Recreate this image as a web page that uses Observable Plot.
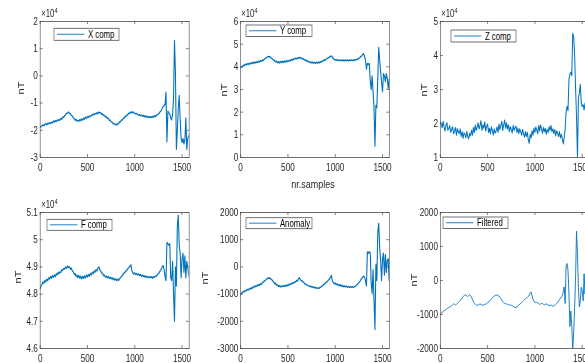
<!DOCTYPE html>
<html><head><meta charset="utf-8">
<script src="https://cdn.jsdelivr.net/npm/d3@7"></script>
<script src="https://cdn.jsdelivr.net/npm/@observablehq/plot@0.6"></script>
<style>
html,body{margin:0;padding:0;background:#fff;}
#outer{position:relative;width:585px;height:363px;overflow:hidden;background:#fff;}
#inner{position:absolute;left:0;top:0;width:760px;height:363px;transform:scaleX(0.78);transform-origin:0 0;}
.panel{position:absolute;}
.panel svg{max-width:none;}
</style>
</head><body>
<div id="outer"><div id="inner"></div></div>
<script>
// ---- data (one value every 10 samples) ----
const SAMPLE_STEP = 10;
const xTicks = [0, 500, 1000, 1500];
// X comp, units of 10^4 nT
const xComp = [
-1.90,-1.86,-1.84,-1.80,-1.83,-1.78,-1.76,-1.80,-1.74,-1.76,
-1.72,-1.75,-1.70,-1.73,-1.66,-1.70,-1.64,-1.68,-1.62,-1.65,
-1.60,-1.63,-1.56,-1.59,-1.51,-1.52,-1.45,-1.43,-1.37,-1.36,
-1.33,-1.38,-1.39,-1.46,-1.47,-1.54,-1.57,-1.63,-1.60,-1.66,
-1.63,-1.67,-1.60,-1.65,-1.58,-1.62,-1.55,-1.59,-1.52,-1.56,
-1.50,-1.53,-1.47,-1.50,-1.44,-1.46,-1.40,-1.43,-1.38,-1.40,
-1.35,-1.39,-1.33,-1.36,-1.35,-1.41,-1.40,-1.46,-1.45,-1.51,
-1.50,-1.56,-1.56,-1.63,-1.63,-1.69,-1.70,-1.75,-1.75,-1.79,
-1.78,-1.81,-1.75,-1.76,-1.68,-1.69,-1.62,-1.62,-1.55,-1.55,
-1.48,-1.49,-1.42,-1.42,-1.36,-1.38,-1.32,-1.36,-1.32,-1.37,
-1.37,-1.40,-1.38,-1.42,-1.44,-1.43,-1.46,-1.44,-1.48,-1.45,
-1.50,-1.46,-1.52,-1.48,-1.53,-1.49,-1.54,-1.50,-1.53,-1.48,
-1.52,-1.46,-1.49,-1.44,-1.43,-1.39,-1.37,-1.31,-1.28,-1.19,
-1.12,-1.10,-1.05,-0.60,-2.42,-1.30,-1.35,-1.40,-1.55,-1.62,
-1.40,-0.80,1.30,0.10,-2.70,-2.00,-1.20,-0.72,-1.60,-2.30,
-2.45,-2.30,-2.50,-2.35,-1.55,-2.70,-2.30,-2.20];
// Y comp, units of 10^4 nT
const yComp = [
3.95,4.02,4.00,4.08,4.05,4.12,4.08,4.14,4.10,4.16,
4.12,4.18,4.14,4.20,4.15,4.22,4.17,4.23,4.19,4.25,
4.21,4.27,4.24,4.30,4.28,4.34,4.36,4.40,4.42,4.46,
4.44,4.45,4.40,4.37,4.32,4.30,4.26,4.22,4.25,4.18,
4.23,4.17,4.24,4.18,4.25,4.19,4.26,4.20,4.27,4.22,
4.28,4.24,4.30,4.27,4.33,4.30,4.36,4.33,4.38,4.35,
4.40,4.37,4.42,4.38,4.40,4.35,4.36,4.31,4.32,4.27,
4.28,4.23,4.24,4.19,4.22,4.17,4.21,4.16,4.20,4.15,
4.20,4.16,4.21,4.17,4.23,4.20,4.26,4.24,4.30,4.29,
4.34,4.35,4.38,4.40,4.43,4.46,4.48,4.42,4.36,4.33,
4.30,4.32,4.28,4.31,4.27,4.30,4.27,4.31,4.26,4.30,
4.26,4.31,4.27,4.30,4.26,4.30,4.27,4.31,4.27,4.30,
4.28,4.32,4.30,4.34,4.33,4.38,4.40,4.45,4.48,4.55,
4.58,4.45,4.30,3.90,4.15,4.10,4.15,3.40,3.00,3.60,
2.90,2.20,0.50,2.30,2.20,3.50,4.85,4.30,3.80,3.30,
2.90,3.70,3.60,3.35,3.70,3.50,3.05,3.45];
// Z comp, units of 10^4 nT
const zComp = [
2.05,1.95,1.88,2.06,1.90,1.78,1.96,2.02,1.80,1.86,
1.93,1.74,1.82,1.90,1.70,1.78,1.88,1.66,1.85,1.76,
1.70,1.84,1.62,1.76,1.56,1.72,1.68,1.58,1.77,1.62,
1.55,1.70,1.64,1.80,1.66,1.88,1.74,1.95,1.80,1.90,
2.02,1.84,1.94,2.08,1.80,1.96,1.86,2.05,1.78,1.92,
1.98,1.74,1.86,1.70,1.90,1.80,1.66,1.84,1.72,1.78,
1.90,1.74,1.98,1.82,1.94,2.06,1.80,1.96,2.10,1.86,
2.02,1.84,1.96,1.76,1.90,1.82,1.72,1.94,1.80,1.88,
1.92,1.74,1.86,1.70,1.84,1.76,1.66,1.82,1.70,1.60,
1.76,1.62,1.74,1.52,1.42,1.68,1.58,1.78,1.66,1.86,
1.74,1.90,1.80,1.70,1.94,1.78,1.96,1.84,1.72,1.88,
1.76,1.86,1.68,1.82,1.74,1.90,1.80,1.94,1.76,1.84,
1.70,1.82,1.64,1.78,1.72,1.62,1.76,1.58,1.68,1.55,
1.40,1.60,1.85,2.35,2.50,2.38,3.30,3.45,3.50,3.40,
4.65,4.55,4.00,3.05,2.20,1.00,2.75,2.90,3.15,2.60,
2.50,2.55,2.40,2.60,2.30,2.45,2.20,2.35];
// F comp (total field), units of 10^4 nT
const fComp = [
4.820,4.830,4.835,4.845,4.840,4.850,4.845,4.855,4.850,4.860,
4.855,4.865,4.858,4.868,4.862,4.870,4.865,4.875,4.870,4.880,
4.875,4.882,4.880,4.890,4.888,4.895,4.892,4.900,4.895,4.903,
4.898,4.900,4.892,4.895,4.885,4.882,4.872,4.875,4.865,4.870,
4.860,4.868,4.858,4.866,4.856,4.865,4.858,4.867,4.860,4.870,
4.863,4.872,4.866,4.876,4.870,4.880,4.875,4.885,4.880,4.890,
4.885,4.895,4.900,4.890,4.885,4.878,4.875,4.868,4.870,4.862,
4.866,4.860,4.865,4.858,4.862,4.856,4.860,4.853,4.858,4.851,
4.856,4.850,4.855,4.850,4.858,4.860,4.866,4.868,4.875,4.878,
4.882,4.886,4.890,4.895,4.898,4.904,4.907,4.885,4.878,4.874,
4.878,4.872,4.876,4.870,4.874,4.868,4.872,4.866,4.870,4.864,
4.868,4.862,4.866,4.861,4.865,4.860,4.864,4.860,4.865,4.858,
4.864,4.862,4.867,4.866,4.872,4.875,4.880,4.886,4.892,4.900,
4.905,4.890,4.865,4.850,4.990,4.985,4.980,4.985,4.860,4.850,
4.920,4.800,4.700,4.900,4.830,5.050,5.090,4.980,4.950,4.860,
4.930,4.950,4.880,4.940,4.860,4.920,4.900,4.870];
// Anomaly, nT
const anomaly = [
-1030,-960,-940,-900,-920,-860,-880,-830,-850,-800,
-820,-770,-800,-740,-760,-700,-730,-680,-700,-650,
-680,-620,-640,-580,-560,-520,-500,-460,-440,-400,
-420,-410,-450,-470,-520,-560,-620,-600,-680,-660,
-720,-690,-740,-700,-730,-690,-720,-680,-710,-660,
-690,-640,-660,-610,-630,-580,-600,-550,-560,-500,
-520,-450,-400,-460,-500,-520,-560,-580,-620,-640,
-660,-690,-700,-720,-710,-740,-730,-760,-740,-780,
-760,-790,-770,-790,-750,-740,-700,-680,-640,-620,
-580,-560,-520,-480,-440,-380,-320,-520,-580,-620,
-600,-650,-620,-680,-650,-700,-660,-720,-680,-730,
-700,-740,-710,-750,-720,-760,-730,-750,-720,-760,
-730,-720,-680,-660,-620,-580,-540,-480,-430,-380,
-340,-380,-500,-700,550,500,560,520,-600,-980,
-100,-1250,-2300,100,-500,1300,1600,700,250,-500,
300,500,-300,450,-200,250,300,-500];
// Filtered anomaly, nT
const filtered = [
-1000,-960,-930,-910,-890,-870,-850,-830,-810,-790,
-780,-770,-740,-710,-690,-700,-720,-700,-680,-650,
-620,-590,-560,-520,-480,-450,-420,-430,-460,-470,
-440,-420,-450,-500,-560,-620,-670,-700,-720,-730,
-720,-700,-690,-700,-720,-730,-720,-700,-690,-680,
-660,-630,-600,-570,-540,-510,-480,-460,-440,-430,
-430,-440,-460,-490,-530,-580,-620,-650,-670,-680,
-690,-700,-710,-720,-720,-730,-740,-760,-780,-790,
-800,-780,-740,-720,-700,-680,-650,-620,-590,-560,
-540,-520,-500,-470,-430,-380,-340,-440,-560,-620,
-640,-650,-640,-660,-690,-700,-690,-670,-680,-700,
-710,-700,-690,-700,-720,-740,-730,-720,-740,-760,
-750,-730,-700,-670,-640,-600,-560,-520,-480,-440,
-330,-190,-680,450,500,300,-400,-1350,-900,-1350,
-2050,-1500,-800,100,1450,800,-200,-780,-600,-200,
-300,-600,200,-400,600,-300,200,-200];
const ticksX = [-3,-2,-1,0,1,2];
const ticksY = [0,1,2,3,4,5,6];
const ticksZ = [1,2,3,4,5];
const ticksF = [4.6,4.7,4.8,4.9,5,5.1];
const ticksAnom = [-3000,-2000,-1000,0,1000,2000];
const ticksFilt = [-2000,-1000,0,1000,2000];
const seriesNames = ["X comp","Y comp","Z comp","F comp","Anomaly","Filtered"];

// ---- layout ----
const SX = 0.78;                 // horizontal squeeze of the original figure
const colLeft = [40, 240, 440];  // plot-area left edges (screen px)
const rowTop = [21, 212];
const PW = 149 / SX, PH = 136;
const mL = 45, mR = 12, mT = 8, mB = 22;
const INK = "#262626", BOX = "#4d4d4d", BLUE = "#0072BD";
const FONT = "'Liberation Sans', Arial, sans-serif";

const panels = [
  {values: xComp, dom: [-3, 2], ticks: ticksX, col: 0, row: 0, exp: true, leg: [54, 28.3, 65, 12], nt: [21, 88], sw: 1.4},
  {values: yComp, dom: [0, 6], ticks: ticksY, col: 1, row: 0, exp: true, leg: [246, 25, 66, 11.5], nt: [224, 90], sw: 1.4},
  {values: zComp, dom: [1, 5], ticks: ticksZ, col: 2, row: 0, exp: true, leg: [451, 30, 65, 12], nt: [424, 90], sw: 1.3},
  {values: fComp, dom: [4.6, 5.1], ticks: ticksF, col: 0, row: 1, exp: true, leg: [47, 219.3, 65, 11], nt: [18, 277], sw: 1.4},
  {values: anomaly, dom: [-3000, 2000], ticks: ticksAnom, col: 1, row: 1, exp: false, leg: [246, 217.7, 66, 11], nt: [205, 278], sw: 1.4},
  {values: filtered, dom: [-2000, 2000], ticks: ticksFilt, col: 2, row: 1, exp: false, leg: [443, 217, 65, 11.5], nt: [414, 280], sw: 1}
];

const inner = document.getElementById("inner");
panels.forEach((p, k) => {
  const data = p.values.map((v, i) => ({s: i * SAMPLE_STEP, v}));
  const chart = Plot.plot({
    width: mL + PW + mR, height: mT + PH + mB,
    marginLeft: mL, marginRight: mR, marginTop: mT, marginBottom: mB,
    style: {fontFamily: FONT, fontSize: "10.5px", color: INK, background: "transparent", overflow: "visible"},
    x: {domain: [0, 1575], ticks: xTicks, tickFormat: d => String(d), tickSize: 0, tickPadding: 6, label: null},
    y: {domain: p.dom, ticks: p.ticks, tickFormat: d => String(d), tickSize: 0, tickPadding: 3, label: null},
    marks: [
      Plot.line(data, {x: "s", y: "v", stroke: BLUE, strokeWidth: p.sw, clip: true}),
      Plot.frame({stroke: BOX, strokeWidth: 0.8}),
      Plot.tickX(xTicks, {x: d => d, insetTop: PH - 3, stroke: BOX, strokeWidth: 0.8}),
      Plot.tickX(xTicks, {x: d => d, insetBottom: PH - 3, stroke: BOX, strokeWidth: 0.8}),
      Plot.tickY(p.ticks, {y: d => d, insetRight: PW - 3.8, stroke: BOX, strokeWidth: 0.8}),
      Plot.tickY(p.ticks, {y: d => d, insetLeft: PW - 3.8, stroke: BOX, strokeWidth: 0.8})
    ]
  });
  const div = document.createElement("div");
  div.className = "panel";
  div.style.left = (colLeft[p.col] / SX - mL) + "px";
  div.style.top = (rowTop[p.row] - mT) + "px";
  div.appendChild(chart);
  inner.appendChild(div);
});

// ---- overlay: labels, exponents, legends ----
const ov = d3.select(inner).append("svg")
  .attr("width", 760).attr("height", 363)
  .style("position", "absolute").style("left", 0).style("top", 0)
  .style("font-family", FONT);

panels.forEach((p, k) => {
  // y label
  const [nx, ny] = p.nt;
  ov.append("text")
    .attr("transform", `translate(${nx / SX + 4},${ny}) rotate(-90)`)
    .attr("text-anchor", "middle").attr("font-size", 11).attr("fill", INK)
    .text("nT");
  // exponent
  if (p.exp) {
    const ex = colLeft[p.col] / SX + 1.5, ey = rowTop[p.row] - 3.5;
    const t = ov.append("text").attr("x", ex).attr("y", ey).attr("font-size", 10).attr("fill", INK);
    t.append("tspan").text("\u00d710");
    t.append("tspan").attr("dy", -4.5).attr("font-size", 7.5).text("4");
  }
  // legend
  const [lx, ly, lw, lh] = p.leg;
  const g = ov.append("g").attr("transform", `translate(${lx / SX},${ly})`);
  g.append("rect").attr("width", lw / SX).attr("height", lh)
    .attr("fill", "#fff").attr("stroke", BOX).attr("stroke-width", 0.8);
  g.append("line").attr("x1", 3.8).attr("x2", 39).attr("y1", lh / 2).attr("y2", lh / 2)
    .attr("stroke", BLUE).attr("stroke-width", 1);
  g.append("text").attr("x", 43.5).attr("y", lh / 2 + 3.6)
    .attr("font-size", 10).attr("fill", "#000").text(seriesNames[k]);
});

// shared x label under the middle top panel
ov.append("text").attr("x", 313 / SX).attr("y", 188)
  .attr("text-anchor", "middle").attr("font-size", 11.5).attr("fill", INK)
  .text("nr.samples");
</script>
</body></html>
